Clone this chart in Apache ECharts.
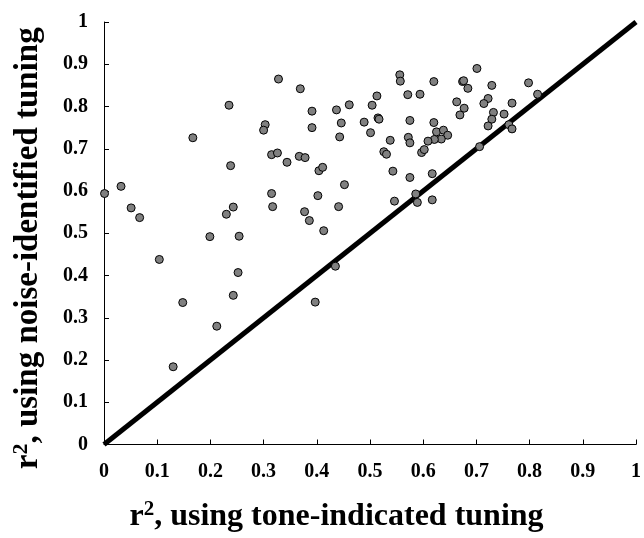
<!DOCTYPE html>
<html style="height: 100%">
<head>
    <meta charset="utf-8">
    <title>r2 tuning scatter</title>
    <script src="https://cdn.jsdelivr.net/npm/echarts@6/dist/echarts.min.js"></script>
    <style>
        html, body { margin: 0; padding: 0; background: #fff; }
        #container { width: 644px; height: 538px; }
    </style>
</head>
<body>
<div id="container"></div>
<script>
    // r2 using tone-indicated tuning (x) vs r2 using noise-identified tuning (y)
    var toneR2 = [
        0.001, 0.032, 0.051, 0.067, 0.104, 0.148, 0.130, 0.199, 0.254, 0.243,
        0.230, 0.238, 0.252, 0.243, 0.212, 0.167, 0.235, 0.328, 0.369, 0.556,
        0.557, 0.620, 0.571, 0.594, 0.513, 0.504, 0.461, 0.437, 0.391, 0.303,
        0.300, 0.391, 0.446, 0.443, 0.489, 0.515, 0.517, 0.501, 0.575, 0.620,
        0.625, 0.638, 0.646, 0.634, 0.621, 0.609, 0.572, 0.575, 0.538, 0.526,
        0.531, 0.597, 0.602, 0.315, 0.326, 0.344, 0.367, 0.378, 0.404, 0.411,
        0.543, 0.575, 0.617, 0.452, 0.315, 0.402, 0.317, 0.441, 0.377, 0.386,
        0.413, 0.546, 0.586, 0.589, 0.617, 0.435, 0.397, 0.701, 0.674, 0.676,
        0.684, 0.729, 0.798, 0.815, 0.663, 0.677, 0.669, 0.722, 0.714, 0.767,
        0.732, 0.729, 0.722, 0.752, 0.761, 0.767, 0.706
    ];
    var noiseR2 = [
        0.594, 0.611, 0.560, 0.537, 0.438, 0.336, 0.184, 0.492, 0.493, 0.562,
        0.545, 0.660, 0.407, 0.353, 0.280, 0.726, 0.803, 0.865, 0.842, 0.875,
        0.860, 0.859, 0.828, 0.829, 0.825, 0.803, 0.804, 0.792, 0.789, 0.757,
        0.744, 0.750, 0.761, 0.728, 0.763, 0.773, 0.770, 0.738, 0.767, 0.762,
        0.740, 0.744, 0.732, 0.723, 0.722, 0.718, 0.727, 0.714, 0.720, 0.693,
        0.687, 0.691, 0.698, 0.686, 0.690, 0.668, 0.682, 0.679, 0.648, 0.656,
        0.647, 0.632, 0.641, 0.615, 0.594, 0.589, 0.563, 0.563, 0.551, 0.530,
        0.506, 0.576, 0.593, 0.573, 0.579, 0.422, 0.337, 0.890, 0.859, 0.861,
        0.843, 0.850, 0.856, 0.829, 0.811, 0.796, 0.780, 0.819, 0.807, 0.808,
        0.786, 0.770, 0.754, 0.782, 0.757, 0.747, 0.705
    ];
    // identity line y = x
    var diagX = [0, 1];
    var diagY = [0, 1];
    var tickLabels = ['0', '0.1', '0.2', '0.3', '0.4', '0.5', '0.6', '0.7', '0.8', '0.9', '1'];

    var points = toneR2.map(function (x, i) { return [x, noiseR2[i]]; });
    var diag = diagX.map(function (x, i) { return [x, diagY[i]]; });

    var serif = '"Liberation Serif", "DejaVu Serif", serif';
    function nameRich(size) {
        return {
            r: { fontFamily: serif, fontWeight: 'bold', fontSize: size, color: '#000' },
            sup: { fontFamily: serif, fontWeight: 'bold', fontSize: Math.round(size * 0.66), color: '#000',
                   verticalAlign: 'top', padding: [0, 0, Math.round(size * 0.45), 0] }
        };
    }

    function tickFmt(v) {
        var idx = Math.round(v * 10);
        return tickLabels[idx] !== undefined ? tickLabels[idx] : '';
    }

    var myChart = echarts.init(document.getElementById('container'));
    var option = {
        animation: false,
        backgroundColor: '#fff',
        grid: { left: 104, right: 0, top: 22, bottom: 91, containLabel: false },
        xAxis: {
            type: 'value', min: 0, max: 1, interval: 0.1,
            name: '{r|r}{sup|2}{r|, using tone-indicated tuning}',
            nameLocation: 'middle', nameGap: 55,
            nameTextStyle: { rich: nameRich(32), padding: [0, 67, 0, 0] },
            splitLine: { show: false },
            axisLine: { lineStyle: { color: '#000', width: 1 } },
            axisTick: { inside: true, length: 5, lineStyle: { color: '#000' } },
            axisLabel: {
                formatter: tickFmt, margin: 17, color: '#000',
                fontFamily: serif, fontWeight: 'bold', fontSize: 20,
                showMaxLabel: true, showMinLabel: true
            }
        },
        yAxis: {
            type: 'value', min: 0, max: 1, interval: 0.1,
            name: '{r|r}{sup|2}{r|, using noise-identified tuning}',
            nameLocation: 'middle', nameGap: 57,
            nameTextStyle: { rich: nameRich(33), padding: [0, 30, 0, 0] },
            splitLine: { show: false },
            axisLine: { show: true, lineStyle: { color: '#000', width: 1 } },
            axisTick: { show: true, inside: true, length: 5, lineStyle: { color: '#000' } },
            axisLabel: {
                formatter: tickFmt, margin: 16, color: '#000',
                fontFamily: serif, fontWeight: 'bold', fontSize: 20
            }
        },
        series: [
            {
                name: 'identity',
                type: 'line',
                data: diag,
                symbol: 'none',
                z: 1,
                lineStyle: { color: '#000', width: 5 }
            },
            {
                name: 'cells',
                type: 'scatter',
                data: points,
                symbol: 'circle',
                symbolSize: 8,
                z: 3,
                itemStyle: { color: '#808080', borderColor: '#000', borderWidth: 1, opacity: 1 }
            }
        ]
    };
    myChart.setOption(option);
</script>
</body>
</html>
